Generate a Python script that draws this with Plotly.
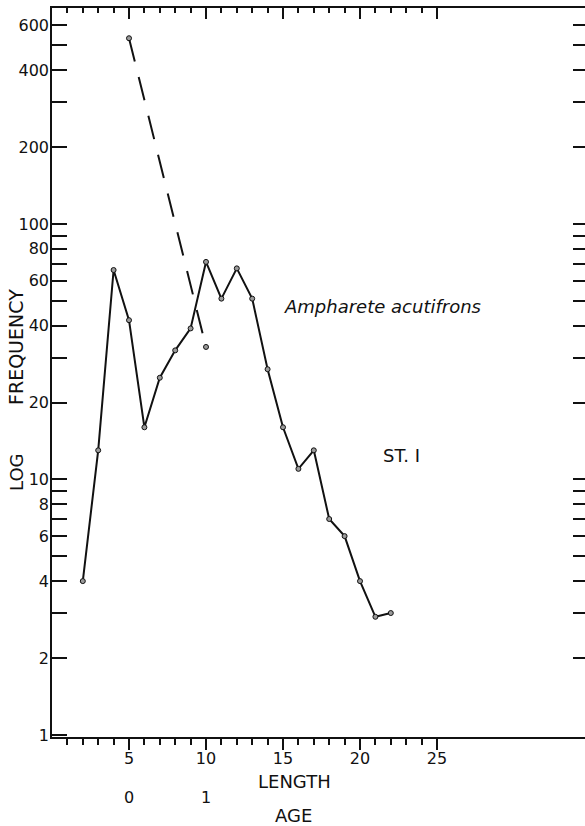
import plotly.graph_objects as go

# Length-frequency data, station 1
length = [2, 3, 4, 5, 6, 7, 8, 9, 10, 11, 12, 13, 14, 15, 16, 17, 18, 19, 20, 21, 22]
frequency = [4, 13, 66, 42, 16, 25, 32, 39, 71, 51, 67, 51, 27, 16, 11, 13, 7, 6, 4, 2.9, 3.0]

# Dashed decline line between two lengths
dash_length = [5, 10]
dash_frequency = [533, 33]

# Axis ticks
y_ticks = [1, 2, 3, 4, 5, 6, 7, 8, 9, 10, 20, 30, 40, 50, 60, 70, 80, 90,
           100, 200, 300, 400, 500, 600]
y_labeled = {1, 2, 4, 6, 8, 10, 20, 40, 60, 80, 100, 200, 400, 600}
x_major = [5, 10, 15, 20, 25]
x_minor = [v for v in range(1, 26) if v % 5]
age_positions = [5, 10]
age_labels = ["0", "1"]

INK = "#111111"
FONT = "DejaVu Sans"

W, H = 585, 826
L, R, T, B = 52, 0, 8, 89
plot_w = W - L - R
plot_h = H - T - B


def px(xp):
    return (xp - L) / plot_w


def py(yp):
    return (H - B - yp) / plot_h


marker_style = dict(symbol="circle", size=5, color="#9a9a9a",
                    line=dict(color=INK, width=1))

fig = go.Figure()

fig.add_trace(go.Scatter(
    x=length, y=frequency, mode="lines+markers",
    line=dict(color=INK, width=2), marker=marker_style,
    showlegend=False, hoverinfo="skip",
))

fig.add_trace(go.Scatter(
    x=dash_length, y=dash_frequency, mode="lines+markers",
    line=dict(color=INK, width=2, dash="24px,16px"), marker=marker_style,
    showlegend=False, hoverinfo="skip",
))

# empty traces so the top and right tick axes are rendered
fig.add_trace(go.Scatter(x=[None], y=[None], xaxis="x2", yaxis="y",
                         showlegend=False, hoverinfo="skip"))
fig.add_trace(go.Scatter(x=[None], y=[None], xaxis="x", yaxis="y2",
                         showlegend=False, hoverinfo="skip"))

x_range = [0, plot_w / 15.4]
y_range = [-0.008, 2.845]

tick_common = dict(tickwidth=1.5, tickcolor=INK, showgrid=False,
                   zeroline=False)

fig.update_layout(
    width=W, height=H,
    margin=dict(l=L, r=R, t=T, b=B),
    paper_bgcolor="white", plot_bgcolor="white",
    font=dict(family=FONT, color=INK),
    xaxis=dict(
        range=x_range, showline=True, linecolor=INK, linewidth=1.5,
        ticks="outside", tickmode="array", tickvals=x_major,
        ticktext=[str(v) for v in x_major], ticklen=11,
        ticklabelstandoff=-5,
        tickfont=dict(family=FONT, size=16, color=INK),
        minor=dict(tickmode="array", tickvals=x_minor, ticks="outside",
                   ticklen=6, tickwidth=1.5, tickcolor=INK, showgrid=False),
        **tick_common,
    ),
    xaxis2=dict(
        range=x_range, overlaying="x", side="top",
        showline=True, linecolor=INK, linewidth=1.5,
        ticks="inside", tickmode="array", tickvals=x_major,
        showticklabels=False, ticklen=11,
        minor=dict(tickmode="array", tickvals=x_minor, ticks="inside",
                   ticklen=5, tickwidth=1.5, tickcolor=INK, showgrid=False),
        **tick_common,
    ),
    yaxis=dict(
        type="log", range=y_range,
        showline=True, linecolor=INK, linewidth=1.5,
        ticks="inside", tickmode="array", tickvals=y_ticks,
        ticktext=[str(v) if v in y_labeled else "" for v in y_ticks],
        ticklen=15, ticklabelstandoff=-2,
        tickfont=dict(family=FONT, size=16, color=INK),
        **tick_common,
    ),
    yaxis2=dict(
        type="log", range=y_range, overlaying="y", side="right",
        showline=False, ticks="inside", tickmode="array", tickvals=y_ticks[1:],
        showticklabels=False, ticklen=12,
        **tick_common,
    ),
)

annotations = [
    dict(text="LOG", x=px(16), y=py(472), textangle=-90, font=dict(size=18)),
    dict(text="FREQUENCY", x=px(16), y=py(347), textangle=-90,
         font=dict(size=19)),
    dict(text="LENGTH", x=px(294), y=py(781), font=dict(size=18)),
    dict(text="AGE", x=px(293), y=py(816), font=dict(size=18)),
    dict(text="<i>Ampharete acutifrons</i>", x=px(382), y=py(307),
         font=dict(size=18)),
    dict(text="ST. I", x=px(401), y=py(455), font=dict(size=18)),
]
for a in annotations:
    a.update(xref="paper", yref="paper", showarrow=False,
             xanchor="center", yanchor="middle")
    a["font"].update(family=FONT, color=INK)

for xpos, lab in zip(age_positions, age_labels):
    annotations.append(dict(
        text=lab, x=xpos, xref="x", y=py(797), yref="paper",
        showarrow=False, xanchor="center", yanchor="middle",
        font=dict(family=FONT, size=16, color=INK)))

fig.update_layout(annotations=annotations)

fig.write_html("out.html")
